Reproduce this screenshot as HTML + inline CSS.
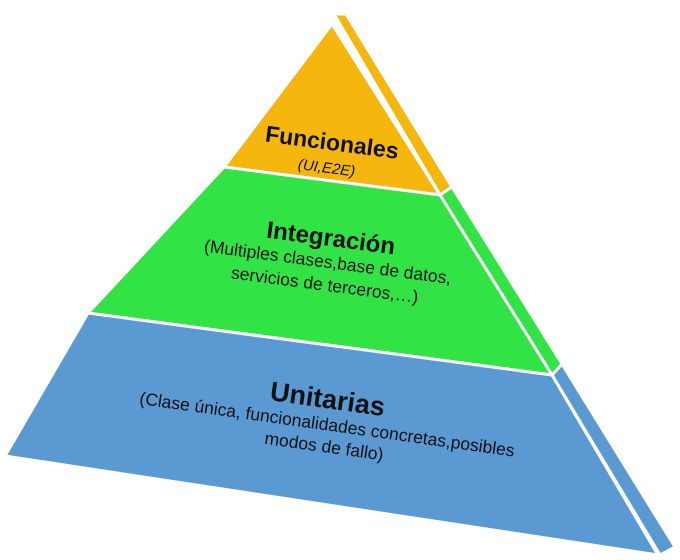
<!DOCTYPE html>
<html><head><meta charset="utf-8"><style>
html,body{margin:0;padding:0;background:#fff;}
svg{display:block;}
text{font-family:"Liberation Sans","DejaVu Sans",sans-serif;fill:#111;}
</style></head><body>
<svg width="680" height="560" viewBox="0 0 680 560" xmlns="http://www.w3.org/2000/svg">
<g stroke="#fff" stroke-width="3" stroke-linejoin="round">
  <polygon points="334,14 346,14 452,187 440,195" fill="#f5b70e"/>
  <polygon points="440,195 452,187 562,364 552,375" fill="#31e344"/>
  <polygon points="552,375 562,364 675,547 660,555" fill="#5b99d3"/>
  <polygon points="332,24 440,195 224,167" fill="#f5b70e"/>
  <polygon points="224,167 440,195 552,375 88,313" fill="#31e344"/>
  <polygon points="88,313 552,375 658,555 5,456" fill="#5b99d3"/>
</g>
<g transform="rotate(7.5 330 150)">
  <text x="331" y="150" font-size="23" font-weight="bold" text-anchor="middle">Funcionales</text>
  <text x="329" y="173" font-size="15" font-style="italic" text-anchor="middle">(UI,E2E)</text>
</g>
<g transform="rotate(7.5 330 245)">
  <text x="330" y="246" font-size="24" font-weight="bold" text-anchor="middle">Integración</text>
  <text x="330" y="268" font-size="17.5" text-anchor="middle">(Multiples clases,base de datos,</text>
  <text x="330" y="291" font-size="17.5" text-anchor="middle">servicios de terceros,…)</text>
</g>
<g transform="translate(0 8) rotate(8 325 410)">
  <text x="325" y="400" font-size="27" font-weight="bold" text-anchor="middle">Unitarias</text>
  <text x="328" y="422" font-size="17.5" text-anchor="middle">(Clase única, funcionalidades concretas,posibles</text>
  <text x="328" y="444" font-size="17.5" text-anchor="middle">modos de fallo)</text>
</g>
</svg>
</body></html>
